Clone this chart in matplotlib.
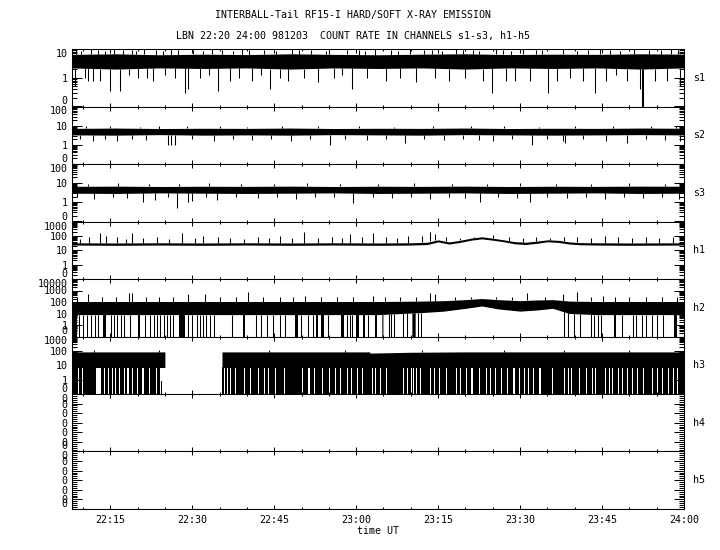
import numpy as np
import matplotlib
matplotlib.use('Agg')
import matplotlib.pyplot as plt
from matplotlib.ticker import NullFormatter

plt.rcParams['font.family'] = 'DejaVu Sans Mono'
plt.rcParams['font.size'] = 7.2

FLOOR = 0.1  # zero counts sit on the bottom of a log panel

# time axis, minutes after 22:00 UT
t_min, t_max = 8.0, 120.0
tick_min = [15, 30, 45, 60, 75, 90, 105, 120]
tick_lab = ['22:15', '22:30', '22:45', '23:00', '23:15', '23:30', '23:45', '24:00']

channels = ['s1', 's2', 's3', 'h1', 'h2', 'h3', 'h4', 'h5']
tops = [10, 100, 100, 1000, 10000, 1000]

# --- soft channels: band of the count rate plus single spikes
env_t = [8, 16, 24, 32, 40, 48, 56, 64, 72, 80, 88, 96, 104, 112, 120]
s1_lo = [2.2, 2.0, 2.2, 2.1, 2.2, 2.0, 2.2, 2.1, 2.2, 2.0, 2.2, 2.1, 2.2, 2.0, 2.2]
s1_hi = [6.5, 6.8, 6.3, 6.6, 6.4, 6.8, 6.5, 6.3, 6.6, 6.8, 6.4, 6.6, 6.5, 6.8, 6.6]
s2_lo = [3.3, 3.2, 3.4, 3.2, 3.3, 3.2, 3.4, 3.3, 3.2, 3.4, 3.3, 3.2, 3.3, 3.4, 3.3]
s2_hi = [7.2, 7.5, 7.1, 7.3, 7.2, 7.5, 7.1, 7.3, 7.2, 7.5, 7.1, 7.3, 7.2, 7.5, 7.3]
s3_lo = [3.0, 2.9, 3.1, 3.0, 2.9, 3.0, 3.1, 2.9, 3.0, 3.1, 2.9, 3.0, 3.1, 2.9, 3.0]
s3_hi = [6.8, 7.0, 6.7, 6.9, 6.8, 7.0, 6.7, 6.9, 6.8, 7.0, 6.7, 6.9, 6.8, 7.0, 6.9]

s1_dip_t = [8.5, 10.4, 11.0, 11.9, 13.1, 15.0, 16.8, 18.5, 20.0, 21.7, 22.9, 25.0, 26.8,
            28.7, 29.3, 31.4, 33.0, 34.8, 36.9, 38.5, 41.0, 42.5, 44.2, 46.0, 47.5, 50.5,
            53.0, 56.0, 57.5, 59.2, 62.0, 65.5, 68.0, 71.0, 74.5, 77.0, 80.0, 83.3, 84.8,
            87.5, 89.1, 91.8, 95.2, 96.7, 99.1, 101.6, 103.7, 105.8, 107.5, 109.5, 112.0,
            112.3, 112.45, 114.7, 116.8, 119.3]
s1_dip_v = [0.5, 1.0, 0.8, 0.8, 0.8, 0.35, 0.35, 1.2, 1.0, 1.0, 0.8, 1.2, 1.0,
            0.3, 0.4, 1.0, 1.2, 0.35, 0.8, 1.0, 0.8, 1.2, 0.4, 1.0, 0.8, 1.0,
            0.7, 1.0, 1.2, 0.4, 1.0, 0.8, 1.0, 0.7, 1.0, 0.8, 1.0, 0.8, 0.3,
            0.8, 0.8, 0.8, 0.3, 0.8, 1.0, 0.8, 0.3, 0.8, 1.2, 0.8, 0.4,
            0, 0, 0.8, 0.8, 0.5]
s1_pk_t = [8.8, 9.6, 11.5, 12.7, 14.1, 15.6, 17.3, 18.9, 19.8, 21.2, 23.4, 24.6, 26.1,
           27.4, 30.2, 31.9, 33.6, 35.5, 37.4, 39.2, 40.4, 43.1, 45.3, 48.3, 49.6, 51.8,
           54.4, 55.1, 58.3, 60.6, 61.7, 63.5, 66.4, 67.6, 69.8, 72.5, 73.9, 75.8, 78.3,
           79.6, 81.4, 82.5, 85.6, 86.9, 88.4, 90.5, 92.9, 94.1, 97.8, 100.4, 102.5,
           104.6, 106.5, 108.3, 110.9, 113.6, 115.8, 117.7, 118.9]
s1_pk_v = [9.5, 8.5, 10, 9.0, 8.5, 10, 9.0, 9.5, 8.5, 10, 9.0, 8.5, 10,
           9.0, 9.5, 8.5, 10, 9.0, 8.5, 10, 9.5, 9.0, 8.5, 10, 9.0, 9.5,
           8.5, 10, 9.0, 9.5, 8.5, 10, 9.0, 8.5, 10, 9.5, 9.0, 8.5, 10,
           9.0, 9.5, 8.5, 10, 9.0, 8.5, 10, 9.5, 9.0, 10, 8.5, 9.5,
           10, 9.0, 8.5, 10, 9.5, 9.0, 10, 9.5]

s2_dip_t = [9.5, 11.9, 14.0, 16.2, 19.0, 21.5, 25.6, 26.2, 26.8, 30.0, 33.9, 37.5, 41.0,
            44.5, 48.0, 51.5, 55.2, 58.0, 62.0, 65.5, 69.0, 72.5, 76.0, 79.5, 82.5,
            85.1, 88.5, 92.1, 95.0, 97.9, 98.2, 101.5, 105.8, 109.5, 113.0, 116.5, 119.3]
s2_dip_v = [2.0, 1.5, 2.0, 1.5, 2.0, 1.8, 1.0, 1.0, 1.0, 2.0, 1.5, 2.0, 1.8,
            2.0, 1.6, 2.0, 1.0, 2.0, 1.8, 2.0, 1.2, 2.0, 1.8, 2.0, 1.8,
            1.5, 2.0, 1.0, 2.0, 1.5, 1.2, 2.0, 1.5, 1.2, 2.0, 1.8, 1.5]
s2_pk_t = [10.5, 15.0, 20.5, 24.0, 29.0, 35.0, 40.0, 46.5, 53.0, 60.5, 67.0, 74.0, 81.0,
           87.0, 93.5, 100.0, 107.0, 114.0, 118.5]
s2_pk_v = [9.5, 10, 9.0, 10, 9.5, 10, 9.0, 10, 9.5, 10, 9.0, 10, 9.5, 10, 9.0, 10, 9.5, 10, 9.5]

s3_dip_t = [9.0, 12.0, 15.5, 18.0, 21.0, 23.2, 25.5, 27.2, 29.3, 30.0, 32.5, 34.5, 38.0,
            42.0, 45.5, 49.0, 52.5, 56.0, 59.4, 63.0, 66.5, 70.0, 73.5, 77.0, 80.0,
            82.7, 86.0, 89.5, 91.8, 95.0, 98.5, 102.0, 105.5, 109.0, 112.5, 116.0, 119.0]
s3_dip_v = [1.8, 1.5, 2.0, 1.6, 1.0, 1.3, 1.8, 0.53, 1.0, 1.2, 1.8, 1.3, 2.0,
            1.6, 1.8, 1.5, 2.0, 1.8, 0.9, 2.0, 1.6, 1.8, 1.5, 2.0, 1.6,
            1.0, 1.8, 1.6, 1.1, 2.0, 1.6, 1.8, 1.5, 2.0, 1.6, 1.8, 1.5]
s3_pk_t = [11.0, 16.5, 22.0, 27.5, 33.0, 39.0, 45.0, 51.0, 57.0, 64.0, 70.5, 77.5, 84.0,
           90.0, 96.5, 103.0, 110.0, 116.5]
s3_pk_v = [9.0, 10, 9.5, 9.0, 10, 9.5, 9.0, 10, 9.5, 9.0, 10, 9.5, 9.0, 10, 9.5, 9.0, 10, 9.5]

# --- h1: thin line with two humps after 23:10
h1_t = [8, 16, 24, 32, 40, 48, 56, 64, 70, 73, 75, 77, 79, 81, 83, 85, 87, 89, 91, 93,
        95, 97, 99, 101, 104, 110, 120]
h1_lo = [23, 22, 23, 22, 23, 22, 23, 22, 23, 25, 38, 27, 35, 50, 62, 50, 39, 28, 25, 30,
         39, 35, 27, 24, 23, 22, 23]
h1_hi = [33, 32, 33, 32, 33, 32, 33, 32, 33, 36, 53, 38, 49, 69, 86, 69, 53, 40, 36, 43,
         53, 49, 38, 34, 33, 32, 33]
h1_pk_t = [9.5, 11.2, 13.1, 14.2, 16.2, 17.8, 18.9, 21.0, 23.5, 25.8, 28.1, 30.5, 32.0,
           34.8, 37.0, 39.5, 42.0, 44.0, 46.1, 48.3, 50.5, 53.0, 55.5, 57.5, 58.9, 61.0,
           63.1, 65.5, 67.5, 69.5, 72.0, 73.6, 74.4, 76.5, 79.0, 81.5, 85.0, 88.0, 90.5,
           93.0, 95.5, 98.0, 100.5, 103.0, 105.5, 108.0, 110.5, 113.0, 115.5, 118.0]
h1_pk_v = [60, 80, 150, 100, 90, 60, 150, 70, 90, 60, 160, 70, 100,
           90, 70, 60, 80, 70, 100, 70, 180, 70, 90, 70, 130, 80,
           150, 90, 70, 100, 100, 180, 140, 90, 70, 90, 120, 80, 70,
           90, 70, 80, 90, 70, 100, 80, 70, 90, 70, 80]

# --- h2: band with drop-outs to zero, none between 23:12 and 23:38
h2_t = [8, 16, 24, 32, 40, 48, 56, 64, 72, 76, 80, 83, 86, 90, 93, 96, 99, 104, 112, 120]
h2_lo = [8, 8, 8, 8, 8, 8, 8, 8, 12, 16, 28, 45, 25, 16, 20, 28, 10, 8, 8, 8]
h2_hi = [110, 110, 110, 110, 110, 110, 110, 110, 120, 130, 160, 200, 160, 130, 150, 160,
         120, 110, 110, 110]
h2_pk_t = [9.0, 11.0, 13.5, 16.0, 18.5, 19.0, 21.5, 24.0, 26.5, 29.3, 32.3, 35.0, 38.0,
           40.3, 43.0, 46.0, 48.5, 50.6, 53.5, 56.5, 59.5, 63.1, 65.2, 68.0, 71.0, 73.6,
           74.5, 78.0, 81.0, 85.6, 88.5, 91.2, 94.5, 97.9, 100.4, 103.0, 105.2, 107.4,
           110.0, 113.0, 116.0, 118.7]
h2_pk_v = [250, 540, 250, 300, 650, 600, 250, 300, 250, 540, 540, 250, 300,
           740, 250, 300, 250, 360, 250, 300, 250, 360, 300, 250, 300, 610,
           500, 300, 250, 300, 250, 600, 300, 450, 740, 250, 350, 300,
           250, 300, 250, 300]
h2_drop = [(8.2, 8.9), (9.2, 9.2), (10.0, 10.0), (10.7, 10.7), (11.4, 11.4), (12.2, 12.2),
           (12.8, 12.8), (13.7, 14.2), (15.1, 15.1), (15.7, 15.7), (16.2, 16.2), (17.0, 17.0),
           (17.5, 17.5), (18.6, 18.6), (20.0, 20.4), (21.4, 21.4), (22.3, 22.3), (23.0, 23.0),
           (23.6, 23.6), (24.1, 24.1), (24.8, 24.8), (25.3, 25.3), (25.9, 25.9), (26.5, 26.5),
           (27.5, 28.7), (29.3, 29.3), (29.9, 29.9), (30.8, 30.8), (31.5, 31.5), (32.0, 32.0),
           (32.6, 32.6), (33.3, 33.3), (34.0, 34.0), (37.3, 37.3), (39.3, 39.6), (41.7, 41.7),
           (42.6, 42.6), (43.7, 43.7), (44.7, 44.7), (46.0, 46.0), (47.0, 47.0), (48.8, 49.4),
           (49.9, 49.9), (51.1, 51.1), (52.1, 52.1), (52.7, 53.0), (53.6, 54.2), (54.9, 54.9),
           (57.3, 57.8), (58.4, 58.4), (58.8, 58.8), (59.2, 59.2), (60.0, 60.5), (61.3, 61.6),
           (62.2, 62.2), (63.4, 63.9), (64.7, 64.9), (66.0, 66.0), (66.4, 66.4), (67.0, 67.0),
           (68.5, 68.5), (69.3, 69.3), (70.2, 70.8), (71.3, 71.3), (71.8, 71.8), (98.1, 98.1),
           (98.8, 98.8), (99.8, 99.8), (100.9, 100.9), (102.9, 102.9), (103.6, 103.6),
           (104.3, 104.3), (104.9, 104.9), (107.2, 107.6), (108.6, 108.6), (110.6, 110.6),
           (111.3, 111.3), (112.4, 112.4), (113.0, 113.0), (114.1, 114.1), (115.0, 115.0),
           (116.2, 116.2), (118.1, 118.7)]

# --- h3: band, no data 22:25-22:35, almost continuous drop-outs
h3_t = [8, 16, 25.0, 25.0, 35.45, 35.45, 48, 62.5, 62.5, 70, 80, 96, 120]
h3_lo = [7, 7, 7, 0, 0, 7, 7, 7, 7, 7, 7, 7, 7]
h3_hi = [85, 85, 85, 0, 0, 85, 85, 85, 70, 80, 85, 85, 85]
h3_live = [(8.0, 25.0), (35.45, 120.0)]
h3_pk_t = [12.0, 24.0, 44.0, 58.0, 72.0, 87.0, 98.0, 110.0]
h3_pk_v = [110, 120, 110, 110, 120, 110, 115, 110]
# stretches where the h3 rate stayed up (white stripes below the band)
h3_up = [(9.05, 9.22), (9.85, 10.0), (12.45, 13.35), (13.8, 13.98), (14.53, 14.71),
         (15.28, 15.42), (15.93, 16.11), (16.63, 16.83), (17.45, 17.64), (18.12, 18.37),
         (19.03, 19.25), (19.89, 20.08), (20.9, 21.2), (22.03, 22.21), (23.3, 23.5),
         (24.17, 24.35), (35.86, 36.02), (36.43, 36.61), (36.92, 37.1), (37.88, 38.1),
         (39.4, 39.62), (40.62, 40.84), (41.98, 42.16), (43.17, 43.35), (43.84, 44.02),
         (45.18, 45.37), (46.8, 47.05), (50.1, 50.33), (51.28, 51.47), (52.22, 52.42),
         (53.76, 54.0), (54.98, 55.21), (56.13, 56.32), (57.1, 57.3), (58.32, 58.52),
         (59.06, 59.24), (60.1, 60.28), (61.04, 61.23), (62.84, 63.03), (63.48, 63.67),
         (64.37, 64.55), (65.43, 65.62), (68.58, 68.77), (69.25, 69.44), (70.05, 70.23),
         (70.47, 70.66), (71.02, 71.21), (71.63, 71.82), (73.46, 73.65), (74.19, 74.38),
         (75.23, 75.41), (76.51, 76.7), (78.34, 78.53), (79.01, 79.26), (80.11, 80.35),
         (81.09, 81.33), (82.4, 82.7), (83.83, 84.02), (84.5, 84.69), (85.36, 85.54),
         (86.58, 86.76), (87.55, 87.8), (88.77, 89.02), (89.75, 89.99), (90.69, 90.88),
         (91.46, 91.64), (92.31, 92.55), (93.55, 93.8), (95.9, 96.1), (98.04, 98.29),
         (98.84, 99.02), (99.35, 99.54), (100.73, 100.91), (102.0, 102.2), (103.17, 103.35),
         (103.78, 103.96), (105.48, 105.73), (106.22, 106.4), (106.83, 107.01),
         (107.92, 108.17), (108.66, 108.84), (109.6, 109.79), (110.49, 110.67),
         (111.4, 111.59), (112.44, 112.68), (114.2, 114.4), (115.0, 115.24),
         (115.98, 116.16), (117.04, 117.23), (117.93, 118.17), (118.72, 118.91)]

# --- h4, h5: no counts at all
h4_t = [8, 120]
h4_v = [0, 0]
h5_t = [8, 120]
h5_v = [0, 0]

LW = 0.75


def clip(v):
    return np.maximum(np.asarray(v, dtype=float), FLOOR)


def draw_band(ax, t, lo, hi):
    ax.fill_between(t, clip(lo), clip(hi), color='k', lw=0)


def draw_spikes(ax, t, v, t_env, base):
    b = np.interp(t, t_env, base)
    ax.vlines(t, clip(v), b, color='k', lw=LW)


def draw_drops(ax, spans, t_env, lo):
    for a, b in spans:
        if b - a < 0.2:
            ax.vlines([a], FLOOR, np.interp(a, t_env, lo), color='k', lw=LW)
        else:
            ax.fill_between([a, b], FLOOR, np.interp([a, b], t_env, lo), color='k',
                            lw=0, antialiased=False)


def log_axis(ax, top):
    ax.set_yscale('log')
    ax.set_ylim(FLOOR, top)
    major = [FLOOR]
    labels = ['0']
    v = 1
    while v <= top:
        major.append(v)
        labels.append(str(v))
        v *= 10
    minor = [m * d for d in [0.1, 1, 10, 100, 1000] for m in range(2, 10) if m * d < top]
    ax.set_yticks(major, labels)
    ax.set_yticks(minor, minor=True)
    ax.yaxis.set_minor_formatter(NullFormatter())


def zero_axis(ax):
    ax.set_ylim(0, 1)
    major = np.linspace(0, 1, 7)
    ax.set_yticks(major, ['0'] * len(major))
    ax.set_yticks(np.linspace(0, 1, 31), minor=True)


fig, axes = plt.subplots(8, 1, figsize=(7.2, 5.5), dpi=100, sharex=True)
fig.subplots_adjust(left=72 / 720, right=684 / 720, top=1 - 49 / 550,
                    bottom=1 - 509 / 550, hspace=0)

soft = [(s1_lo, s1_hi, s1_dip_t, s1_dip_v, s1_pk_t, s1_pk_v),
        (s2_lo, s2_hi, s2_dip_t, s2_dip_v, s2_pk_t, s2_pk_v),
        (s3_lo, s3_hi, s3_dip_t, s3_dip_v, s3_pk_t, s3_pk_v)]
for ax, top, (lo, hi, dt, dv, pt, pv) in zip(axes[:3], tops[:3], soft):
    draw_band(ax, env_t, lo, hi)
    draw_spikes(ax, dt, dv, env_t, lo)
    draw_spikes(ax, pt, pv, env_t, hi)
    log_axis(ax, top)

ax = axes[3]
draw_band(ax, h1_t, h1_lo, h1_hi)
draw_spikes(ax, h1_pk_t, h1_pk_v, h1_t, h1_hi)
log_axis(ax, tops[3])

ax = axes[4]
draw_band(ax, h2_t, h2_lo, h2_hi)
draw_spikes(ax, h2_pk_t, h2_pk_v, h2_t, h2_hi)
draw_drops(ax, h2_drop, h2_t, h2_lo)
log_axis(ax, tops[4])

ax = axes[5]
draw_band(ax, h3_t, h3_lo, h3_hi)
draw_spikes(ax, h3_pk_t, h3_pk_v, h3_t, h3_hi)
# drop-outs are the stretches of live time outside h3_up
h3_drop = []
for a, b in h3_live:
    cur = a
    for u0, u1 in h3_up:
        if u0 >= a and u1 <= b:
            h3_drop.append((cur, u0))
            cur = u1
    h3_drop.append((cur, b))
draw_drops(ax, h3_drop, h3_t, h3_lo)
log_axis(ax, tops[5])

for ax, t, v in [(axes[6], h4_t, h4_v), (axes[7], h5_t, h5_v)]:
    ax.plot(t, v, color='k', lw=LW)
    zero_axis(ax)

for ax, name in zip(axes, channels):
    ax.set_xlim(t_min, t_max)
    ax.set_xticks(tick_min, tick_lab)
    ax.set_xticks(np.arange(10, 121, 5), minor=True)
    ax.tick_params(axis='x', which='both', direction='in', top=True, bottom=True,
                   width=LW, labelbottom=False)
    ax.tick_params(axis='x', which='major', length=3.0)
    ax.tick_params(axis='x', which='minor', length=1.5)
    ax.tick_params(axis='y', which='both', direction='in', left=True, right=True,
                   width=LW, pad=3)
    ax.tick_params(axis='y', which='major', length=7.2)
    ax.tick_params(axis='y', which='minor', length=3.6)
    for s in ax.spines.values():
        s.set_linewidth(LW)
    labs = ax.get_yticklabels()
    labs[0].set_va('bottom')
    labs[-1].set_va('top')
    ax.text(1.015, 0.5, name, transform=ax.transAxes, ha='left', va='center')

axes[-1].tick_params(axis='x', which='major', labelbottom=True, pad=4)
axes[-1].set_xlabel('time UT', labelpad=1)

fig.text(0.49, 1 - 15 / 550, 'INTERBALL-Tail RF15-I HARD/SOFT X-RAY EMISSION',
         ha='center', va='center')
fig.text(0.49, 1 - 36 / 550, 'LBN 22:20 24:00 981203  COUNT RATE IN CHANNELS s1-s3, h1-h5',
         ha='center', va='center')

fig.savefig('out.png', dpi=100, facecolor='white')
